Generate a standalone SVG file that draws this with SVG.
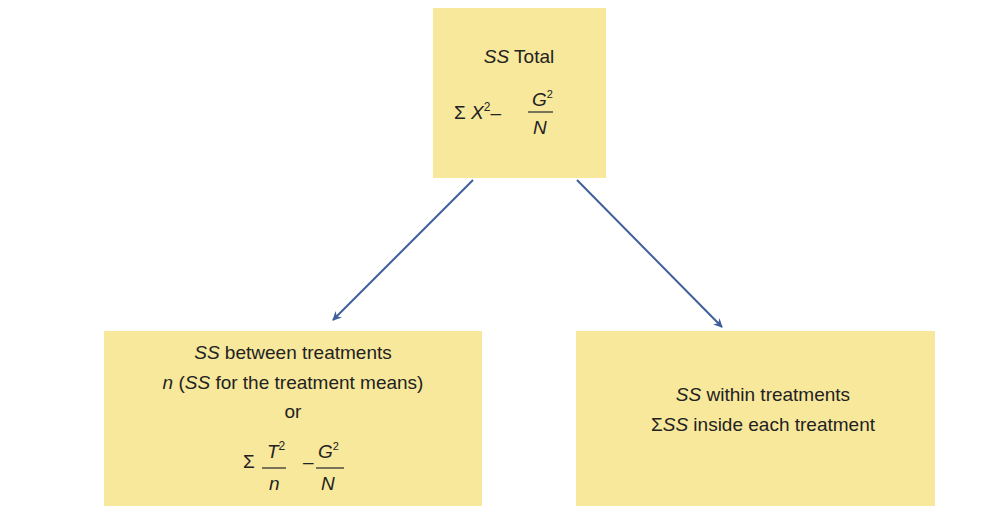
<svg xmlns="http://www.w3.org/2000/svg" width="1002" height="526" viewBox="0 0 1002 526">
<style>
.box{fill:#f8e89c;}
text{font-family:"Liberation Sans",Arial,sans-serif;fill:#222;font-size:19px;}
.i{font-style:italic;}
.c{stroke:#3f5f9c;stroke-width:2;fill:none;}
.fr{stroke:#333;stroke-width:1.3;}
</style>
<defs><marker id="a" viewBox="0 0 10 10" refX="9" refY="5" markerWidth="9" markerHeight="9" orient="auto" markerUnits="userSpaceOnUse"><path d="M0,0L10,5L0,10L3,5Z" fill="#3f5f9c"/></marker></defs>
<rect width="1002" height="526" fill="#fff"/>
<g id="connectors">
<path class="c" d="M473,180L333,320" marker-end="url(#a)"/>
<path class="c" d="M577,180L722,327" marker-end="url(#a)"/>
</g>
<g id="total">
<rect class="box" x="433" y="8" width="173" height="170"/>
<text x="519" y="63" text-anchor="middle"><tspan class="i">SS</tspan> Total</text>
<text x="454" y="119">Σ <tspan class="i">X</tspan><tspan font-size="12" dy="-8">2</tspan><tspan dy="8">–</tspan></text>
<text x="532" y="106" class="i" font-size="18">G<tspan font-size="11" dy="-8" font-style="normal">2</tspan></text>
<line class="fr" x1="528" y1="112" x2="553" y2="112"/>
<text x="533" y="134" class="i" font-size="18">N</text>
</g>
<g id="between">
<rect class="box" x="104" y="331" width="378" height="175"/>
<text x="293" y="359" text-anchor="middle"><tspan class="i">SS</tspan> between treatments</text>
<text x="293" y="389" text-anchor="middle"><tspan class="i">n</tspan> (<tspan class="i">SS</tspan> for the treatment means)</text>
<text x="293" y="418" text-anchor="middle">or</text>
<text x="243" y="468">Σ</text>
<text x="267" y="458" class="i" font-size="18">T<tspan font-size="12" dy="-8" font-style="normal">2</tspan></text>
<line class="fr" x1="262" y1="468" x2="286" y2="468"/>
<text x="269" y="490" class="i" font-size="18">n</text>
<text x="303" y="468" font-size="16">–</text>
<text x="318" y="458" class="i" font-size="18">G<tspan font-size="11" dy="-8" font-style="normal">2</tspan></text>
<line class="fr" x1="316" y1="468" x2="344" y2="468"/>
<text x="321" y="490" class="i" font-size="18">N</text>
</g>
<g id="within">
<rect class="box" x="576" y="331" width="359" height="175"/>
<text x="763" y="401" text-anchor="middle"><tspan class="i">SS</tspan> within treatments</text>
<text x="763" y="431" text-anchor="middle">Σ<tspan class="i">SS</tspan> inside each treatment</text>
</g>
</svg>
